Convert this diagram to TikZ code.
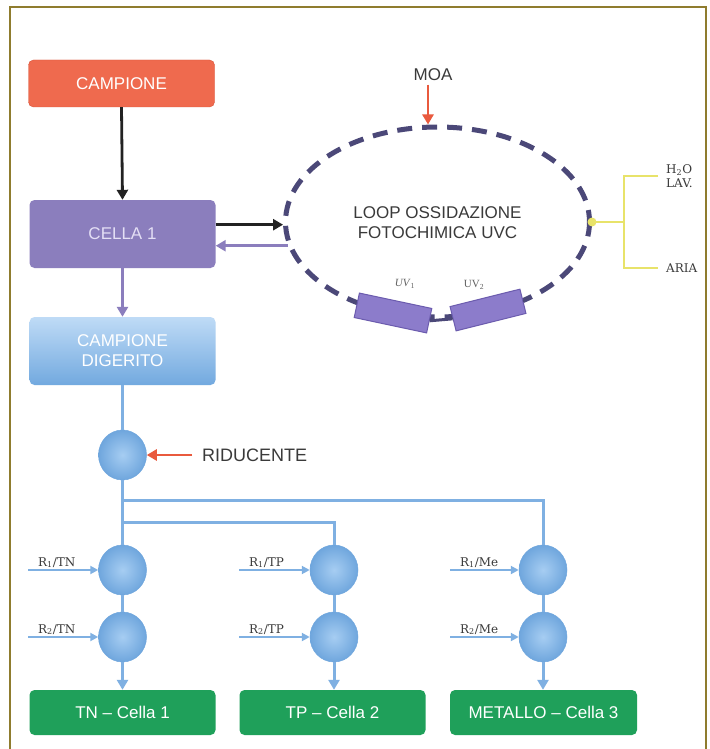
\documentclass[tikz,border=0pt]{standalone}
\usepackage{fontspec}
\setmainfont{Liberation Serif}
\setsansfont{Liberation Sans}
\newfontfamily\slab{DejaVu Serif}
\usetikzlibrary{shapes.geometric,arrows.meta,calc}
\definecolor{framec}{HTML}{8F7C2E}
\definecolor{redbox}{HTML}{EF6A4E}
\definecolor{redboxd}{HTML}{D9543A}
\definecolor{purp}{HTML}{8B7EBD}
\definecolor{purptxt}{HTML}{E4DFF5}
\definecolor{digtop}{HTML}{BFDBF6}
\definecolor{digbot}{HTML}{72A9DF}
\definecolor{bubin}{HTML}{A6CDF2}
\definecolor{bubout}{HTML}{6FA6DD}
\definecolor{bluel}{HTML}{7FB0E2}
\definecolor{greenb}{HTML}{1FA05A}
\definecolor{loopc}{HTML}{4B4878}
\definecolor{lampc}{HTML}{8C7CCB}
\definecolor{lampd}{HTML}{6B5BAE}
\definecolor{yel}{HTML}{E8E36A}
\definecolor{dtext}{HTML}{3A3A3A}
\definecolor{redarr}{HTML}{E95A3E}
\definecolor{blk}{HTML}{222222}
\begin{document}
\begin{tikzpicture}[x=1pt,y=-1pt,
  box/.style={rounded corners=5pt, minimum width=186pt, inner sep=0pt, align=center,
    font=\sffamily\fontsize{17}{20}\selectfont, text=white},
  bub/.style={ellipse, minimum width=48pt, minimum height=50pt, inner sep=0pt,
    inner color=bubin, outer color=bubout, draw=bubout, line width=0.5pt},
  tipb/.style={-{Triangle[length=10pt,width=11pt]}},
  tips/.style={-{Triangle[length=8pt,width=8pt]}},
  blkarr/.style={tipb, draw=blk, line width=2.8pt},
  purarr/.style={tipb, draw=purp, line width=2.8pt},
  redar/.style={tipb, draw=redarr, line width=2.8pt},
  bl/.style={draw=bluel, line width=3pt},
  rarr/.style={tips, draw=bluel, line width=2.2pt},
  rlab/.style={font=\slab\fontsize{12}{14}\selectfont, text=dtext, inner sep=0pt, anchor=base west},
  sans/.style={font=\sffamily\fontsize{17}{20}\selectfont, text=dtext, align=center},
  lamp/.style={draw=lampd, fill=lampc, line width=1pt, minimum width=74pt, minimum height=25pt, inner sep=0pt},
  yl/.style={draw=yel, line width=2.8pt}
]
\useasboundingbox (0,0) rectangle (709,749);
\fill[white] (0,0) rectangle (709,749);
\draw[framec, line width=1.5pt] (10,752) -- (10,7) -- (706,7) -- (706,752);

% boxes
\node[box, fill=redbox, draw=redboxd, minimum height=47pt] (campione) at (121.5,83.5) {CAMPIONE};
\node[box, fill=purp, minimum height=68pt, text=purptxt] (cella) at (122.5,234) {CELLA 1};
\node[box, top color=digtop, bottom color=digbot, minimum height=68pt] (dig) at (122.5,351) {CAMPIONE\\DIGERITO};

% loop
\node[ellipse, draw=loopc, line width=5pt, dash pattern=on 15pt off 10pt, dash phase=3pt,
  minimum width=304pt, minimum height=190pt, inner sep=0pt] (loop) at (437.5,222) {};
\node[sans] (looptxt) at (437.5,223) {LOOP OSSIDAZIONE\\FOTOCHIMICA UVC};

% lamps
\node[lamp, rotate=-12] (lamp1) at (393,313) {};
\node[lamp, rotate=14, minimum width=72pt] (lamp2) at (488,310) {};
\draw[loopc, line width=3pt] (lamp1.east) -- (lamp2.west);
\draw[loopc, line width=2.5pt] (lamp2.east) -- ++(3,0);
\node[font=\fontsize{11}{13}\selectfont, text=dtext!80, inner sep=0pt] (uv1) at (405,284) {\textit{UV}\textsubscript{1}};
\node[font=\fontsize{11}{13}\selectfont, text=dtext!80, inner sep=0pt] (uv2) at (474,285) {UV\textsubscript{2}};

% MOA
\node[sans] (moa) at (433,75) {MOA};
\draw[redar] ([xshift=-5pt]moa.south) -- ([xshift=-5pt]moa.south |- loop.north);

% cella <-> loop
\draw[blkarr] (campione.south) -- (cella.north);
\draw[blkarr] (cella.east |- loop.181) -- (loop.181);
\draw[purarr] (loop.189) -- (loop.189 -| cella.east);
\draw[purarr] (cella.south) -- (dig.north);

% yellow inputs
\node[font=\slab\fontsize{12}{14}\selectfont, text=dtext, align=left, anchor=west, inner sep=0pt] (h2o) at (666,176) {H\textsubscript{2}O\\LAV.};
\node[font=\slab\fontsize{12}{14}\selectfont, text=dtext, anchor=west, inner sep=0pt] (aria) at (666,268) {ARIA};
\coordinate (yj) at (624,222);
\draw[yl] ([xshift=-8pt]h2o.west) -| (yj) |- ([xshift=-8pt]aria.west);
\draw[yl] (yj) -- (loop.east);
\fill[yel] (loop.east) circle (4.5);

% reducer
\node[bub] (c0) at (122.5,455) {};
\node[sans, font=\sffamily\fontsize{18}{20}\selectfont, anchor=west, inner sep=0pt] (rid) at (202,455) {RIDUCENTE};
\draw[redar] ([xshift=-10pt]rid.west) -- (c0.east);
\draw[bl] (dig.south) -- (c0.north);

% distribution
\node[bub] (n11) at (122.5,570) {};
\node[bub] (n12) at (334,570) {};
\node[bub] (n13) at (543,570) {};
\node[bub] (n21) at (122.5,637) {};
\node[bub] (n22) at (334,637) {};
\node[bub] (n23) at (543,637) {};
\coordinate (j1) at (122.5,500);
\coordinate (j2) at (122.5,522);
\draw[bl] (c0.south) -- (n11.north);
\draw[bl] (j1) -| (n13.north);
\draw[bl] (j2) -| (n12.north);
\draw[bl] (n11.south) -- (n21.north);
\draw[bl] (n12.south) -- (n22.north);
\draw[bl] (n13.south) -- (n23.north);

% output boxes
\node[box, fill=greenb, minimum height=45pt] (g1) at (122.5,712.5) {TN – Cella 1};
\node[box, fill=greenb, minimum height=45pt] (g2) at (332.5,712.5) {TP – Cella 2};
\node[box, fill=greenb, minimum height=45pt, minimum width=187pt] (g3) at (543.5,712.5) {METALLO – Cella 3};
\draw[bl, tipb] (n21.south) -- (n21.south |- g1.north);
\draw[bl, tipb] (n22.south) -- (n22.south |- g2.north);
\draw[bl, tipb] (n23.south) -- (n23.south |- g3.north);

% reagent inputs
\coordinate (s11) at (28,570);
\coordinate (s12) at (239,570);
\coordinate (s13) at (450,570);
\coordinate (s21) at (28,637);
\coordinate (s22) at (239,637);
\coordinate (s23) at (450,637);
\draw[rarr] (s11) -- (n11.west);
\draw[rarr] (s12) -- (n12.west);
\draw[rarr] (s13) -- (n13.west);
\draw[rarr] (s21) -- (n21.west);
\draw[rarr] (s22) -- (n22.west);
\draw[rarr] (s23) -- (n23.west);
\node[rlab] (r11) at (38,566) {R\textsubscript{1}/TN};
\node[rlab] (r12) at (249,566) {R\textsubscript{1}/TP};
\node[rlab] (r13) at (460,566) {R\textsubscript{1}/Me};
\node[rlab] (r21) at (38,633) {R\textsubscript{2}/TN};
\node[rlab] (r22) at (249,633) {R\textsubscript{2}/TP};
\node[rlab] (r23) at (460,633) {R\textsubscript{2}/Me};
\end{tikzpicture}
\end{document}
